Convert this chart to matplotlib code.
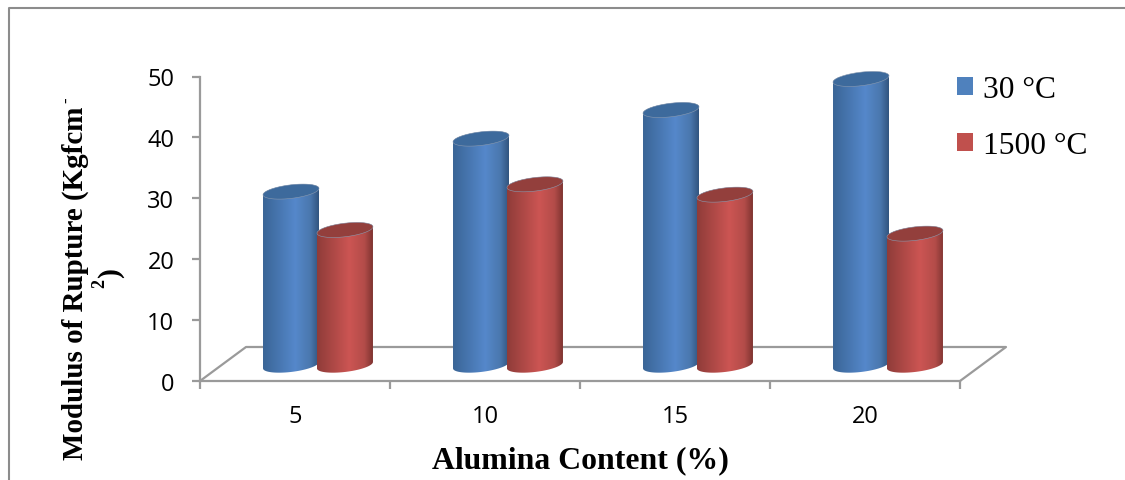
"""Alumina content vs modulus of rupture, 3D-looking cylinder bars."""

import matplotlib
matplotlib.use('Agg')
import matplotlib.pyplot as plt
import numpy as np
from matplotlib.colors import LinearSegmentedColormap
from matplotlib.lines import Line2D
from matplotlib.patches import Patch, PathPatch, Polygon
from matplotlib.path import Path

W, H = 1125, 481

categories = ['5', '10', '15', '20']
y_ticks = [0, 10, 20, 30, 40, 50]
temp_30 = [28.5, 37.2, 41.9, 47.0]
temp_1500 = [22.2, 29.7, 28.0, 21.6]
series_names = ['30 °C', '1500 °C']

GRID = '#9a9a9a'
BLUE = '#4f81bd'
RED = '#c0504d'
BLUE_CMAP = LinearSegmentedColormap.from_list(
    'b', [(0, '#3a6596'), (0.58, '#5588cb'), (0.85, '#4a77ad'), (1, '#31557f')])
RED_CMAP = LinearSegmentedColormap.from_list(
    'r', [(0, '#8f3c39'), (0.58, '#cc5553'), (0.85, '#b34c49'), (1, '#7f3431')])

fig = plt.figure(figsize=(W / 100, H / 100), dpi=100, facecolor='white')
# plot box in pixels: x 200..960, y 382 (0) .. 77.5 (50)
ax = fig.add_axes([200 / W, 1 - 382 / H, 760 / W, 304.5 / H])
ax.set_xlim(0, 4)
ax.set_ylim(0, 50)
ax.patch.set_visible(False)

XU = 190.0   # px per category
YU = 6.09    # px per value unit
HALF_W = 28 / XU
BASE = 2.6   # bars stand on the floor, above the zero line
DEPTH_X = 46 / XU
DEPTH_Y = 34 / YU


def cylinder(xc, value, cmap, top_color):
    a, b, shear = HALF_W, 6.8 / YU, 3.2 / YU
    y0, y1 = BASE, BASE + value

    t = np.linspace(np.pi, 2 * np.pi, 40)
    low_x = xc + a * np.cos(t)
    low_y = y0 + b * np.sin(t) + shear * np.cos(t)
    t2 = np.linspace(0, np.pi, 40)
    up_x = xc + a * np.cos(t2)
    up_y = y1 + b * np.sin(t2) + shear * np.cos(t2)
    body = np.column_stack([np.r_[low_x, up_x], np.r_[low_y, up_y]])
    codes = [Path.MOVETO] + [Path.LINETO] * (len(body) - 1)
    clip = PathPatch(Path(body, codes), transform=ax.transData,
                     facecolor='none', edgecolor='none', clip_on=False)
    ax.add_patch(clip)

    grad = np.linspace(0, 1, 256).reshape(1, -1)
    im = ax.imshow(grad, cmap=cmap, aspect='auto', zorder=3,
                   extent=(xc - a, xc + a, y0 - 3, y1 + 3))
    im.set_clip_path(clip)

    # top face
    t3 = np.linspace(0, 2 * np.pi, 80)
    top = np.column_stack([xc + a * np.cos(t3),
                           y1 + b * np.sin(t3) + shear * np.cos(t3)])
    ax.add_patch(Polygon(top, closed=True, facecolor=top_color,
                         edgecolor='#8a9ab0', linewidth=0.4, zorder=3,
                         clip_on=False))


# floor outline
ax.plot([0, DEPTH_X, 4 + DEPTH_X, 4], [0, DEPTH_Y, DEPTH_Y, 0], color=GRID,
        lw=1.6, clip_on=False, zorder=1)

for i in range(len(categories)):
    cylinder(i + 0.479, temp_30[i], BLUE_CMAP, '#3d6a9c')
    cylinder(i + 0.763, temp_1500[i], RED_CMAP, '#933f3c')

ax.set_xlim(0, 4)
ax.set_ylim(0, 50)

for s in ['top', 'right']:
    ax.spines[s].set_visible(False)
for s in ['left', 'bottom']:
    ax.spines[s].set_color(GRID)
    ax.spines[s].set_linewidth(1.6)

ax.set_yticks(y_ticks)
ax.set_xticks(range(len(categories) + 1))
ax.set_xticklabels([])
ax.tick_params(axis='both', color=GRID, width=1.6, length=6)
ax.tick_params(axis='y', labelsize=17, labelcolor='black', pad=12.5)
for lab in ax.get_yticklabels():
    lab.set_family('Open Sans')

for i, c in enumerate(categories):
    ax.annotate(c, xy=(i + 0.5, 0), xytext=(0, -35), textcoords='offset pixels',
                ha='center', va='center', fontsize=17, family='Open Sans')


def px(x, y):
    return x / W, 1 - y / H


serif = 'Liberation Serif'
fig.text(*px(580, 461), 'Alumina Content (%)', family=serif, fontweight='bold',
         fontsize=22.85, ha='center', va='center')
fig.text(*px(75, 460), 'Modulus of Rupture (Kgfcm', family=serif, fontweight='bold',
         fontsize=20.9, rotation=90, ha='center', va='bottom')
fig.text(*px(67, 103), '-', family=serif, fontweight='bold', fontsize=12,
         rotation=90, ha='center', va='bottom')
fig.text(*px(100, 288), '2', family=serif, fontweight='bold', fontsize=13,
         rotation=90, ha='center', va='bottom')
fig.text(*px(111, 278), ')', family=serif, fontweight='bold', fontsize=21.3,
         rotation=90, ha='center', va='bottom')

handles = [Patch(facecolor=BLUE, edgecolor='none'),
           Patch(facecolor=RED, edgecolor='none')]
fig.legend(handles, series_names, loc='upper left', bbox_to_anchor=px(948, 67),
           frameon=False, prop={'family': serif, 'size': 22.7},
           handlelength=0.5, handleheight=0.5, handletextpad=0.3,
           labelspacing=0.85, borderpad=0.3, borderaxespad=0)

# page frame around the figure
fig.add_artist(Line2D([9 / W, 9 / W, 1], [0, 1 - 9 / H, 1 - 9 / H], color='#8c8c8c',
                      lw=1.5, transform=fig.transFigure))

fig.savefig('out.png', dpi=100, facecolor='white')
